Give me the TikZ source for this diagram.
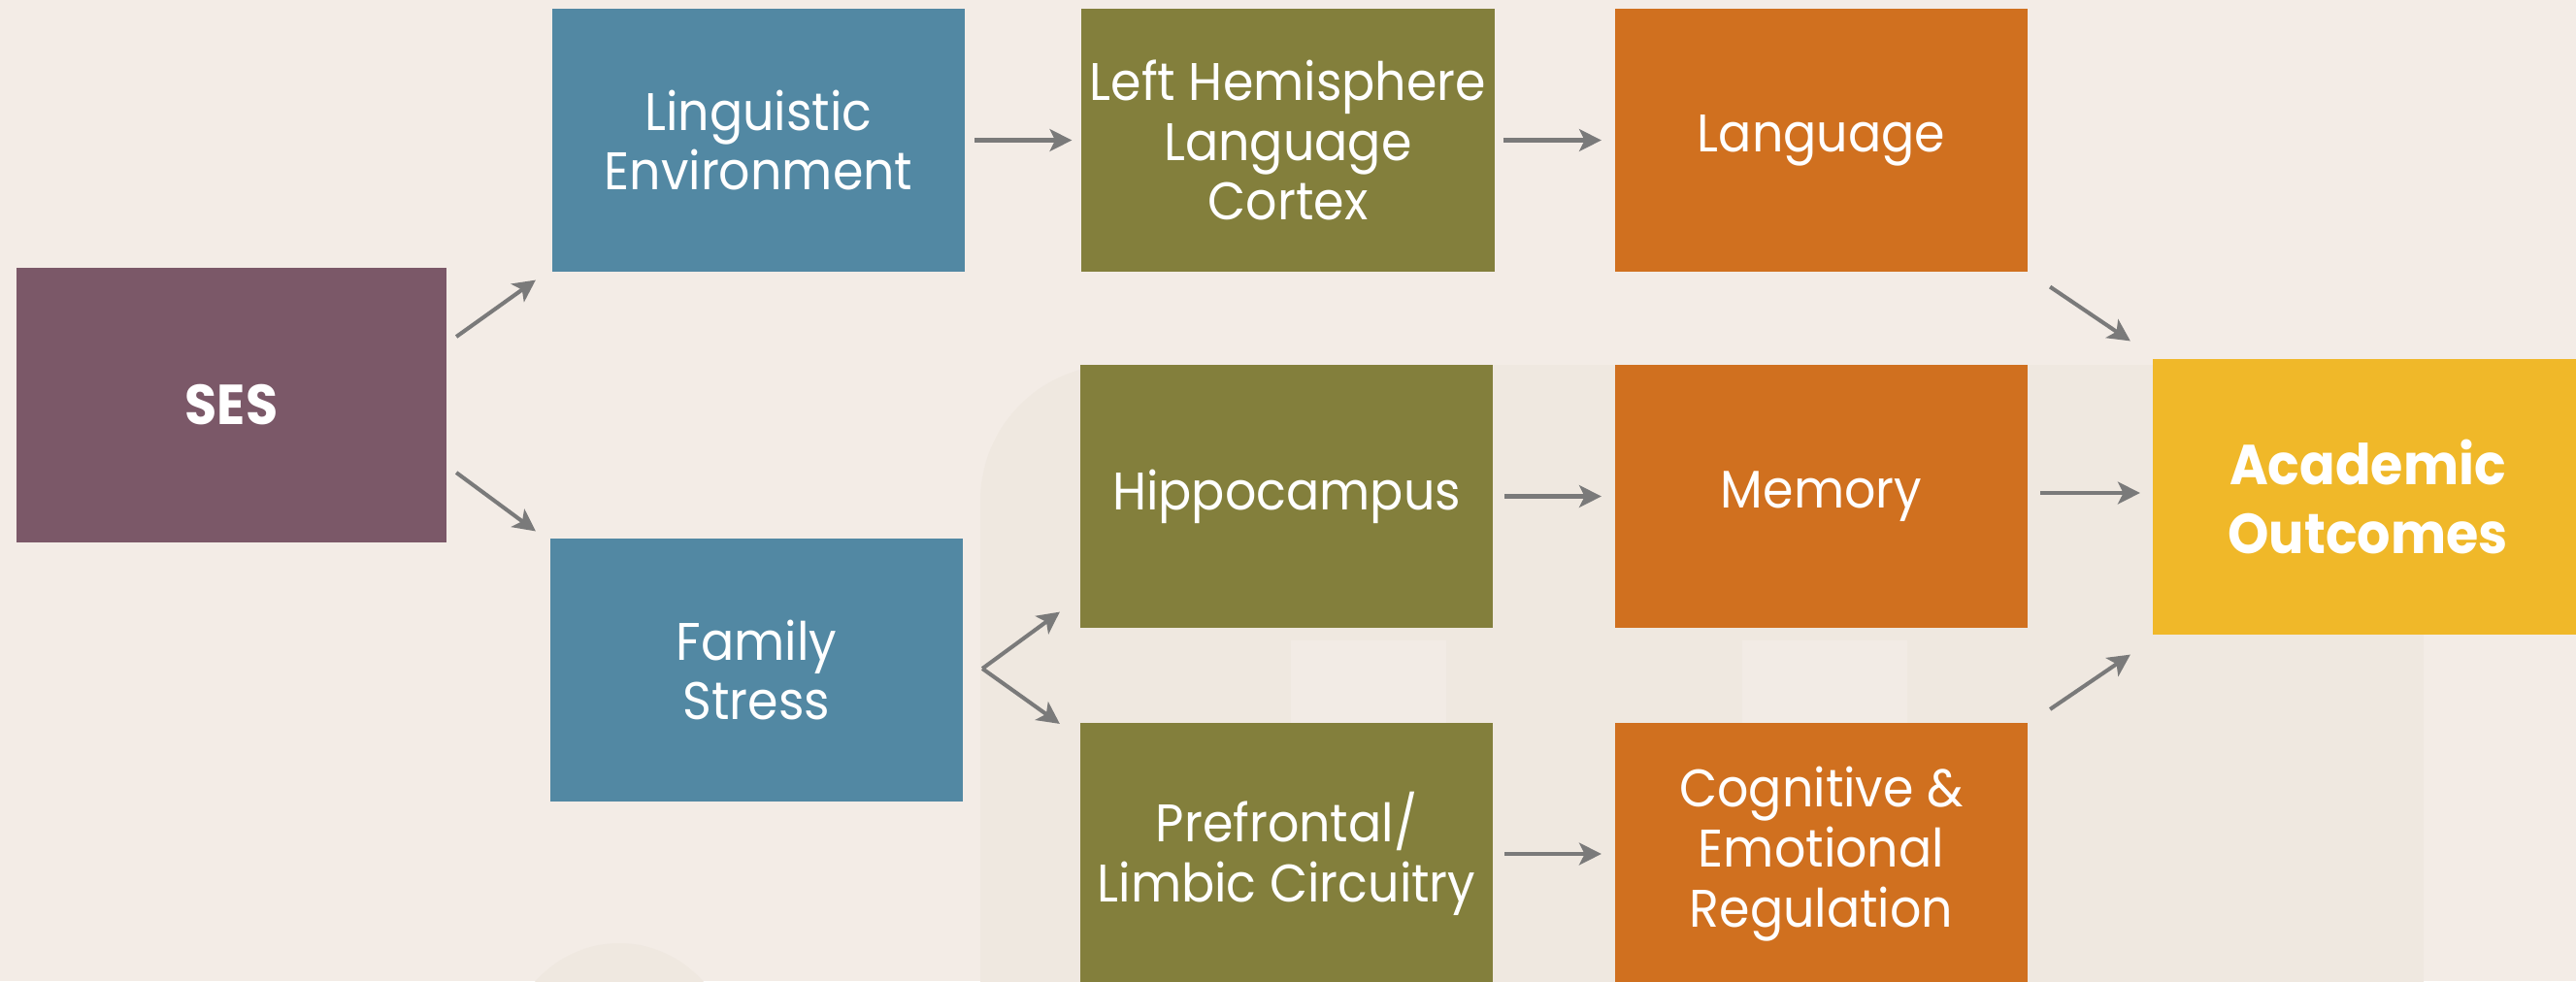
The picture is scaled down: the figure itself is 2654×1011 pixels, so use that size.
\documentclass[tikz,border=0pt]{standalone}
\usepackage{fontspec}
\setmainfont{Poppins}[FakeStretch=0.93]
\usetikzlibrary{arrows.meta}

\definecolor{paper}{HTML}{F3ECE6}
\definecolor{faint}{HTML}{EFE8E0}
\definecolor{column}{HTML}{F2EBE5}
\definecolor{sescol}{HTML}{7B5868}
\definecolor{envcol}{HTML}{5288A3}
\definecolor{braincol}{HTML}{837F3C}
\definecolor{skillcol}{HTML}{D0701F}
\definecolor{goalcol}{HTML}{F0B829}
\definecolor{linkcol}{HTML}{7A7A7A}

\tikzset{
  box/.style={rectangle, inner sep=0pt, outer sep=0pt, align=center,
    text=white, minimum width=4.25cm, minimum height=2.70cm,
    font=\fontsize{15.5pt}{17.6pt}\selectfont},
  bigbox/.style={box, minimum width=4.43cm, minimum height=2.83cm,
    font=\fontsize{16.5pt}{20.2pt}\selectfont\bfseries},
  envbox/.style={box, fill=envcol},
  brainbox/.style={box, fill=braincol},
  skillbox/.style={box, fill=skillcol},
  link/.style={draw=linkcol, line width=1.15pt,
    -{Stealth[length=6.5pt, width=6.5pt, inset=1.6pt]}}
}

\begin{document}
\begin{tikzpicture}[x=0.01cm, y=-0.01cm]
  \useasboundingbox (0,0) rectangle (2654,1011);
  \begin{scope}
    \clip (0,0) rectangle (2654,1011);
    % paper and the faint backdrop shapes
    \fill[paper] (0,0) rectangle (2654,1011);
    \fill[faint, rounded corners=1.4cm] (1010,376) rectangle (2497,1200);
    \fill[column] (1330,660) rectangle (1490,1011);
    \fill[column] (1795,660) rectangle (1965,1011);
    \fill[faint] (638,1100) ellipse (120 and 128);

    % boxes
    \node[bigbox, fill=sescol] (ses) at (238.5,417.5) {SES};
    \node[envbox] (ling) at (781.5,144.5) {Linguistic\\Environment};
    \node[envbox] (fam) at (779.5,690.5) {Family\\Stress};
    \node[brainbox] (lhem) at (1327,144.5) {Left Hemisphere\\Language\\Cortex};
    \node[brainbox] (hippo) at (1325.5,511.5) {Hippocampus};
    \node[brainbox] (pfc) at (1325.5,880) {Prefrontal/\\Limbic Circuitry};
    \node[skillbox] (lang) at (1876.5,144.5) {Language};
    \node[skillbox] (mem) at (1876.5,511.5) {Memory};
    \node[skillbox] (cog) at (1876.5,880) {Cognitive \&\\Emotional\\Regulation};
    \node[bigbox, fill=goalcol] (acad) at (2439.5,512) {Academic\\Outcomes};

    % connectors
    \draw[link] ([shift={(10,-70.5)}]ses.east) -- ([shift={(-17,9)}]ling.south west);
    \draw[link] ([shift={(10,69.5)}]ses.east) -- ([shift={(-15,-8)}]fam.north west);
    \draw[link] ([shift={(10,0)}]ling.east) -- ([shift={(-10,0)}]lhem.west);
    \draw[link] ([shift={(9,0)}]lhem.east) -- ([shift={(-14,0)}]lang.west);
    \draw[link] ([shift={(20,-1.5)}]fam.east) -- ([shift={(-21,-16)}]hippo.south west);
    \draw[link] ([shift={(20,-1.5)}]fam.east) -- ([shift={(-21,1)}]pfc.north west);
    \draw[link] ([shift={(12,0)}]hippo.east) -- ([shift={(-14,0)}]mem.west);
    \draw[link] ([shift={(12,0)}]pfc.east) -- ([shift={(-14,0)}]cog.west);
    \draw[link] ([shift={(23,16)}]lang.south east) -- ([shift={(-23,-19)}]acad.north west);
    \draw[link] ([shift={(13,-3.5)}]mem.east) -- ([shift={(-13,-4)}]acad.west);
    \draw[link] ([shift={(23,-14)}]cog.north east) -- ([shift={(-23,21)}]acad.south west);
  \end{scope}
\end{tikzpicture}
\end{document}
